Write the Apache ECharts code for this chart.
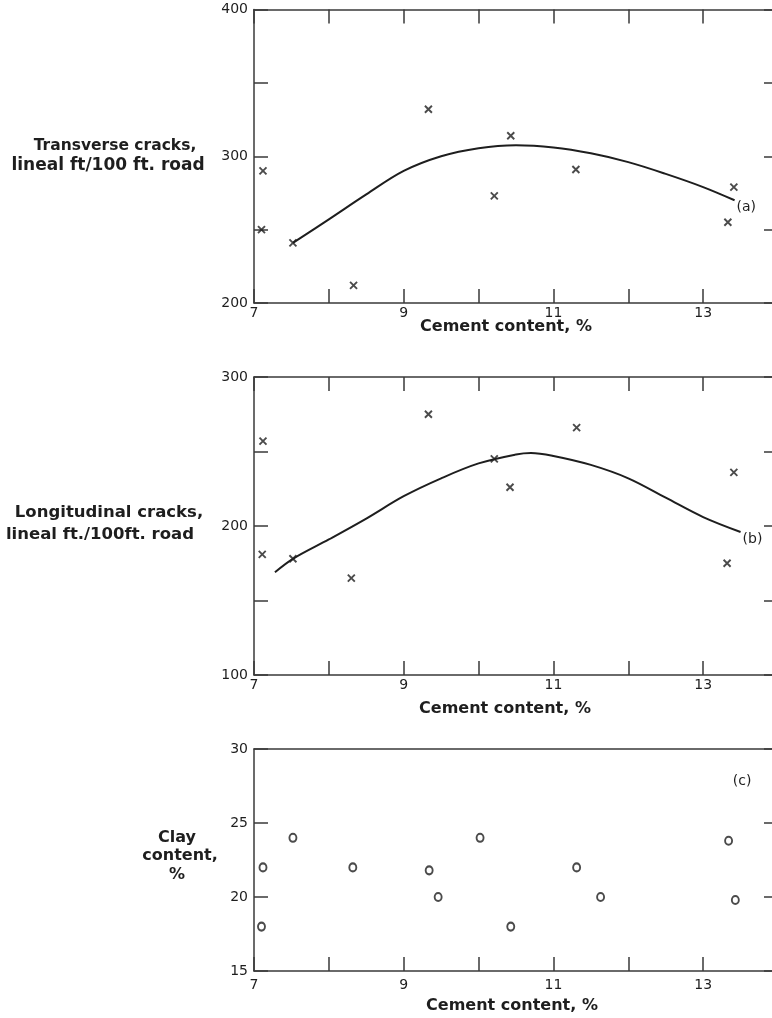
<!DOCTYPE html>
<html>
<head>
<meta charset="utf-8">
<script src="https://cdn.jsdelivr.net/npm/echarts@6/dist/echarts.min.js"></script>
<style>
html,body{margin:0;padding:0;background:#fff;}
#chart{width:772px;height:1018px;}
</style>
</head>
<body>
<div id="chart"></div>
<script>
// ---- Data ----
// Panel (a): Transverse cracks
const transX = [7.12, 7.10, 7.52, 8.33, 9.33, 10.21, 10.43, 11.30, 13.41, 13.33];
const transY = [290, 250, 241, 212, 332, 273, 314, 291, 279, 255];
const curveAX = [7.52, 8.0, 8.5, 9.0, 9.5, 10.0, 10.5, 11.0, 11.5, 12.0, 12.5, 13.0, 13.42];
const curveAY = [241, 257, 274, 290, 300, 305.5, 307.5, 306, 302, 296, 288, 279, 270];
// Panel (b): Longitudinal cracks
const longX = [7.12, 7.11, 7.52, 8.30, 9.33, 10.21, 10.42, 11.31, 13.41, 13.32];
const longY = [257, 181, 178, 165, 275, 245, 226, 266, 236, 175];
const curveBX = [7.28, 7.52, 8.0, 8.5, 9.0, 9.5, 10.0, 10.5, 10.7, 11.0, 11.5, 12.0, 12.5, 13.0, 13.5];
const curveBY = [169, 178, 191, 205, 220, 232, 242, 248, 249, 247, 241, 232, 219, 206, 196];
// Panel (c): Clay content
const clayX = [7.10, 7.12, 7.52, 8.32, 9.34, 9.46, 10.02, 10.43, 11.31, 11.63, 13.34, 13.43];
const clayY = [18, 22, 24, 22, 21.8, 20, 24, 18, 22, 20, 23.8, 19.8];
// Axis settings / labels
const xRange = [7, 14];
const xLabelValues = [7, 9, 11, 13];
const yRangeA = [200, 400];
const yRangeB = [100, 300];
const yRangeC = [15, 30];
const xTitle = 'Cement content, %';
const yTitleA = ['Transverse cracks,', 'lineal ft/100 ft. road'];
const yTitleB = ['Longitudinal cracks,', 'lineal ft./100ft. road'];
const yTitleC = ['Clay', 'content,', '%'];
const curveLabels = ['(a)', '(b)', '(c)'];
const labelC = [13.52, 27.8];

const zip = (xs, ys) => xs.map((x, i) => [x, ys[i]]);

const FONT = 'DejaVu Sans';
const INK = '#1e1e1e';
const AX = '#3a3a3a';
const lineStyle = {color: AX, width: 1.5};

function xAxes(gridIndex, topTicks, margin) {
  return [
    {
      type: 'value', gridIndex, position: 'bottom', min: xRange[0], max: xRange[1], interval: 1,
      axisLine: {show: true, onZero: false, lineStyle},
      axisTick: {show: true, inside: true, length: 14, lineStyle},
      splitLine: {show: false},
      axisLabel: {
        show: true, margin, color: INK, fontFamily: FONT, fontSize: 14,
        formatter: v => xLabelValues.includes(v) ? String(v) : ''
      }
    },
    {
      type: 'value', gridIndex, position: 'top', min: xRange[0], max: xRange[1], interval: 1,
      axisLine: {show: true, onZero: false, lineStyle},
      axisTick: {show: topTicks, inside: true, length: 14, lineStyle},
      splitLine: {show: false},
      axisLabel: {show: false}
    }
  ];
}

function yAxes(gridIndex, range, interval, labelEvery) {
  return [
    {
      type: 'value', gridIndex, position: 'left', min: range[0], max: range[1], interval,
      axisLine: {show: true, onZero: false, lineStyle},
      axisTick: {show: true, inside: true, length: 14, lineStyle},
      splitLine: {show: false},
      axisLabel: {
        show: true, margin: 6, color: INK, fontFamily: FONT, fontSize: 14,
        formatter: v => ((v - range[0]) % labelEvery === 0) ? String(v) : ''
      }
    },
    {
      type: 'value', gridIndex, position: 'right', min: range[0], max: range[1], interval,
      axisLine: {show: true, onZero: false, lineStyle},
      axisTick: {show: true, inside: true, length: 14, lineStyle},
      splitLine: {show: false},
      axisLabel: {show: false}
    }
  ];
}

const xMark = 'path://M0,0L10,10M10,0L0,10';

function textEl(text, x, y, size, bold) {
  return {
    type: 'text', x, y,
    style: {
      text, fill: INK, align: 'center', verticalAlign: 'middle',
      fontFamily: FONT, fontSize: size, fontWeight: bold ? 'bold' : 'normal'
    }
  };
}

const graphics = [
  textEl(yTitleA[0], 115, 146, 15.5, true),
  textEl(yTitleA[1], 108, 166, 17, true),
  textEl(yTitleB[0], 109, 513, 16.5, true),
  textEl(yTitleB[1], 100, 535, 16.5, true),
  textEl(yTitleC[0], 177, 838, 16, true),
  textEl(yTitleC[1], 180, 856, 16, true),
  textEl(yTitleC[2], 177, 875, 16, true),
  textEl(xTitle, 506, 327, 16, true),
  textEl(xTitle, 505, 709, 16, true),
  textEl(xTitle, 512, 1006, 16, true)
];

const gridBase = {outerBoundsMode: 'none', containLabel: false};

const option = {
  backgroundColor: '#fff',
  animation: false,
  grid: [
    Object.assign({left: 254, top: 9.5, width: 524, height: 293.5}, gridBase),
    Object.assign({left: 254, top: 377, width: 524, height: 298}, gridBase),
    Object.assign({left: 254, top: 749, width: 524, height: 222}, gridBase)
  ],
  xAxis: [...xAxes(0, true, 3), ...xAxes(1, true, 3), ...xAxes(2, false, 7)],
  yAxis: [...yAxes(0, yRangeA, 50, 100), ...yAxes(1, yRangeB, 50, 100), ...yAxes(2, yRangeC, 5, 5)],
  graphic: graphics,
  series: [
    {
      type: 'scatter', xAxisIndex: 0, yAxisIndex: 0, data: zip(transX, transY),
      symbol: xMark, symbolSize: 7,
      itemStyle: {color: 'transparent', borderColor: INK, borderWidth: 1.9}
    },
    {
      type: 'line', xAxisIndex: 0, yAxisIndex: 0, data: zip(curveAX, curveAY),
      smooth: 0.35, showSymbol: false, symbol: 'none',
      lineStyle: {color: INK, width: 2},
      endLabel: {show: true, formatter: curveLabels[0], distance: 2, offset: [0, 7],
        color: INK, fontFamily: FONT, fontSize: 14}
    },
    {
      type: 'scatter', xAxisIndex: 2, yAxisIndex: 2, data: zip(longX, longY),
      symbol: xMark, symbolSize: 7,
      itemStyle: {color: 'transparent', borderColor: INK, borderWidth: 1.9}
    },
    {
      type: 'line', xAxisIndex: 2, yAxisIndex: 2, data: zip(curveBX, curveBY),
      smooth: 0.35, showSymbol: false, symbol: 'none',
      lineStyle: {color: INK, width: 2},
      endLabel: {show: true, formatter: curveLabels[1], distance: 2, offset: [0, 7],
        color: INK, fontFamily: FONT, fontSize: 14}
    },
    {
      type: 'scatter', xAxisIndex: 4, yAxisIndex: 4, data: zip(clayX, clayY),
      symbol: 'emptyCircle', symbolSize: [7, 8],
      itemStyle: {color: INK, borderColor: INK, borderWidth: 1.7},
      markPoint: {
        symbol: 'circle', symbolSize: 0,
        data: [{coord: labelC}],
        label: {show: true, position: 'inside', formatter: curveLabels[2],
          color: INK, fontFamily: FONT, fontSize: 14}
      }
    }
  ]
};

const chart = echarts.init(document.getElementById('chart'), null, {renderer: 'canvas'});
chart.setOption(option);
</script>
</body>
</html>
